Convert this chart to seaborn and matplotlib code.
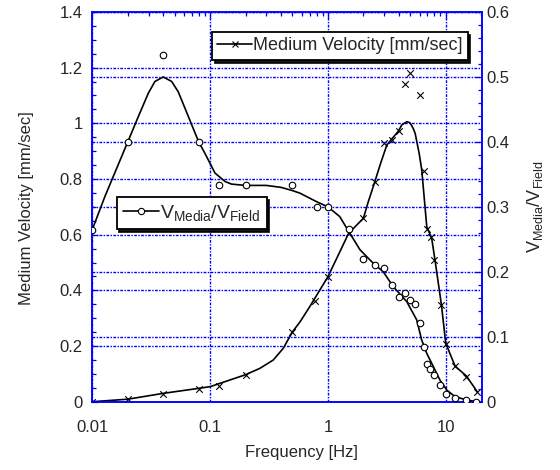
import matplotlib
matplotlib.use("Agg")
import matplotlib.pyplot as plt
from matplotlib.lines import Line2D
from matplotlib.ticker import MultipleLocator, FuncFormatter, NullFormatter, LogLocator
import seaborn as sns
import pandas as pd

# ---------------- data ----------------
# Medium velocity (left axis), measured points (x markers)
vel_freq = [0.01, 0.02, 0.04, 0.08, 0.12, 0.2, 0.5, 0.78, 1.0, 1.5, 2.0, 2.5, 3.0, 3.5, 4.0,
            4.5, 5.0, 6.0, 6.5, 7.0, 7.5, 8.0, 9.2, 10, 12, 15, 18.5]
vel_meas = [0.0, 0.009, 0.029, 0.045, 0.057, 0.097, 0.249, 0.36, 0.449, 0.605, 0.659, 0.79, 0.93,
            0.94, 0.973, 1.141, 1.18, 1.10, 0.83, 0.619, 0.593, 0.509, 0.347, 0.207, 0.128, 0.09, 0.036]
# Medium velocity smooth curve
vel_fit_freq = [0.01, 0.02, 0.04, 0.08, 0.1, 0.2, 0.265, 0.344, 0.418, 0.5, 0.58, 0.7, 1.0, 1.5,
                2.0, 2.2, 2.5, 2.77, 3.16, 3.98, 4.23, 4.67, 4.98, 5.29, 5.5, 5.95, 6.26, 6.9,
                7.6, 8.1, 9.2, 10, 12, 15, 18.5]
vel_fit = [0.0, 0.009, 0.030, 0.048, 0.054, 0.097, 0.12, 0.150, 0.192, 0.251, 0.287, 0.341,
           0.449, 0.605, 0.659, 0.718, 0.790, 0.850, 0.922, 0.973, 0.994, 1.006, 1.002, 0.982,
           0.964, 0.892, 0.832, 0.629, 0.587, 0.51, 0.347, 0.21, 0.128, 0.092, 0.036]

# V_Media / V_Field (right axis), measured points (open circles)
ratio_freq = [0.01, 0.02, 0.04, 0.08, 0.12, 0.2, 0.5, 0.8, 1.0, 1.5, 2.0, 2.5, 3.0, 3.5, 4.0,
              4.5, 5.0, 5.5, 6.0, 6.5, 7.0, 7.4, 8.0, 9.0, 10, 12, 15, 18]
ratio_meas = [0.265, 0.400, 0.534, 0.400, 0.334, 0.334, 0.334, 0.299, 0.299, 0.266, 0.219,
              0.2105, 0.206, 0.179, 0.161, 0.168, 0.157, 0.150, 0.121, 0.084, 0.058, 0.051,
              0.041, 0.025, 0.012, 0.006, 0.003, 0.0]
# V_Media / V_Field smooth curve
ratio_fit_freq = [0.01, 0.0128, 0.02, 0.0246, 0.0299, 0.034, 0.04, 0.0472, 0.0537, 0.0654,
                  0.08, 0.0906, 0.11, 0.134, 0.152, 0.2, 0.3, 0.4, 0.5, 0.58, 0.8, 1.0, 1.26,
                  1.48, 1.87, 2.43, 2.95, 3.59, 4.67, 5.67, 6.25, 6.9, 7.85, 8.95, 10.2, 12,
                  15.1, 18.3]
ratio_fit = [0.265, 0.316, 0.400, 0.439, 0.475, 0.493, 0.500, 0.493, 0.477, 0.439, 0.400,
             0.382, 0.352, 0.339, 0.335, 0.333, 0.333, 0.330, 0.325, 0.321, 0.308, 0.300,
             0.285, 0.264, 0.234, 0.213, 0.200, 0.177, 0.154, 0.126, 0.095, 0.0745, 0.054,
             0.033, 0.018, 0.0077, 0.0026, 0.0]

left_label = "Medium Velocity [mm/sec]"
right_label = r"$\mathregular{V_{Media}/V_{Field}}$"
x_label = "Frequency [Hz]"
x_ticks = [0.01, 0.1, 1, 10]

# ---------------- style ----------------
sns.set_style("white")
plt.rcParams["font.family"] = ["Liberation Sans", "DejaVu Sans"]
plt.rcParams["mathtext.fontset"] = "custom"
plt.rcParams["mathtext.rm"] = "Liberation Sans"
plt.rcParams["mathtext.it"] = "Liberation Sans"

BLUE = "#0000ff"
GRID_LS = (0, (2, 1, 1, 1))
fmt = FuncFormatter(lambda v, p: f"{v:g}")

fig = plt.figure(figsize=(5.6, 4.7), dpi=100)
ax = fig.add_axes([0.1648, 0.1453, 0.6954, 0.8292])
ax2 = ax.twinx()

df_vel_fit = pd.DataFrame({"f": vel_fit_freq, "v": vel_fit})
df_vel = pd.DataFrame({"f": vel_freq, "v": vel_meas})
df_rat_fit = pd.DataFrame({"f": ratio_fit_freq, "r": ratio_fit})
df_rat = pd.DataFrame({"f": ratio_freq, "r": ratio_meas})

sns.lineplot(data=df_vel_fit, x="f", y="v", ax=ax, color="k", linewidth=1.2,
             estimator=None, sort=False)
sns.scatterplot(data=df_vel, x="f", y="v", ax=ax, marker="x", color="k", s=22,
                linewidth=0.8, zorder=3)
sns.lineplot(data=df_rat_fit, x="f", y="r", ax=ax2, color="k", linewidth=1.2,
             estimator=None, sort=False)
sns.scatterplot(data=df_rat, x="f", y="r", ax=ax2, marker="o", facecolor="white",
                edgecolor="k", s=22, linewidth=0.8, zorder=3)

ax.set_xscale("log")
ax.set_xlim(0.01, 20.2)
ax.set_ylim(0, 1.4)
ax2.set_ylim(0, 0.6)

ax.set_xticks(x_ticks)
ax.xaxis.set_major_formatter(fmt)
ax.xaxis.set_minor_locator(LogLocator(base=10, subs=range(2, 10)))
ax.xaxis.set_minor_formatter(NullFormatter())
ax.yaxis.set_major_locator(MultipleLocator(0.2))
ax.yaxis.set_minor_locator(MultipleLocator(0.05))
ax.yaxis.set_major_formatter(fmt)
ax2.yaxis.set_major_locator(MultipleLocator(0.1))
ax2.yaxis.set_minor_locator(MultipleLocator(0.02))
ax2.yaxis.set_major_formatter(fmt)

ax.tick_params(axis="x", which="both", direction="in", color=BLUE, top=True,
               labelsize=12, pad=13)
ax.tick_params(axis="y", which="both", direction="in", color=BLUE, right=False,
               labelsize=12, pad=7)
ax.tick_params(which="major", length=4, width=0.9)
ax.tick_params(which="minor", length=3, width=0.9)
ax2.tick_params(axis="y", which="both", direction="in", color=BLUE, labelsize=12, pad=3)
ax2.tick_params(which="major", length=4, width=0.9)
ax2.tick_params(which="minor", length=3, width=0.9)

ax.grid(True, which="major", axis="both", color=BLUE, linestyle=GRID_LS, linewidth=1.0)
ax2.grid(True, which="major", axis="y", color=BLUE, linestyle=GRID_LS, linewidth=1.0)
ax2.grid(False, axis="x")

for a in (ax, ax2):
    for s in a.spines.values():
        s.set_color(BLUE)
        s.set_linewidth(1.1)

ax.set_xlabel(x_label, fontsize=12)
ax.set_ylabel(left_label, fontsize=12)
ax2.set_ylabel(right_label, fontsize=13)
ax.xaxis.set_label_coords(0.537, -0.112)
ax.yaxis.set_label_coords(-0.15, 0.497)
ax2.yaxis.set_label_coords(1.112, 0.5)

# legends
h_vel = Line2D([], [], color="k", linewidth=1.2, marker="x", markersize=5,
               markeredgewidth=0.8)
h_rat = Line2D([], [], color="k", linewidth=1.2, marker="o", markersize=4.5,
               markerfacecolor="white", markeredgecolor="k", markeredgewidth=0.8)
shadow = {"color": "black", "alpha": 0.9}
leg1 = fig.legend([h_vel], [left_label], loc="upper left",
                  bbox_to_anchor=(212 / 560, 1 - 32 / 470), fontsize=13,
                  numpoints=1, handlelength=1.9, handletextpad=0.05, borderpad=0.3,
                  fancybox=False, shadow=shadow, framealpha=1, edgecolor="black",
                  borderaxespad=0)
leg1.get_frame().set_linewidth(1.3)
leg2 = fig.legend([h_rat], [right_label], loc="upper left",
                  bbox_to_anchor=(116.7 / 560, 1 - 197.3 / 470), fontsize=14,
                  numpoints=1, handlelength=1.9, handletextpad=0.05, borderpad=0.3,
                  fancybox=False, shadow=shadow, framealpha=1, edgecolor="black",
                  borderaxespad=0)
leg2.get_frame().set_linewidth(1.3)

fig.savefig("out.png", dpi=100)
